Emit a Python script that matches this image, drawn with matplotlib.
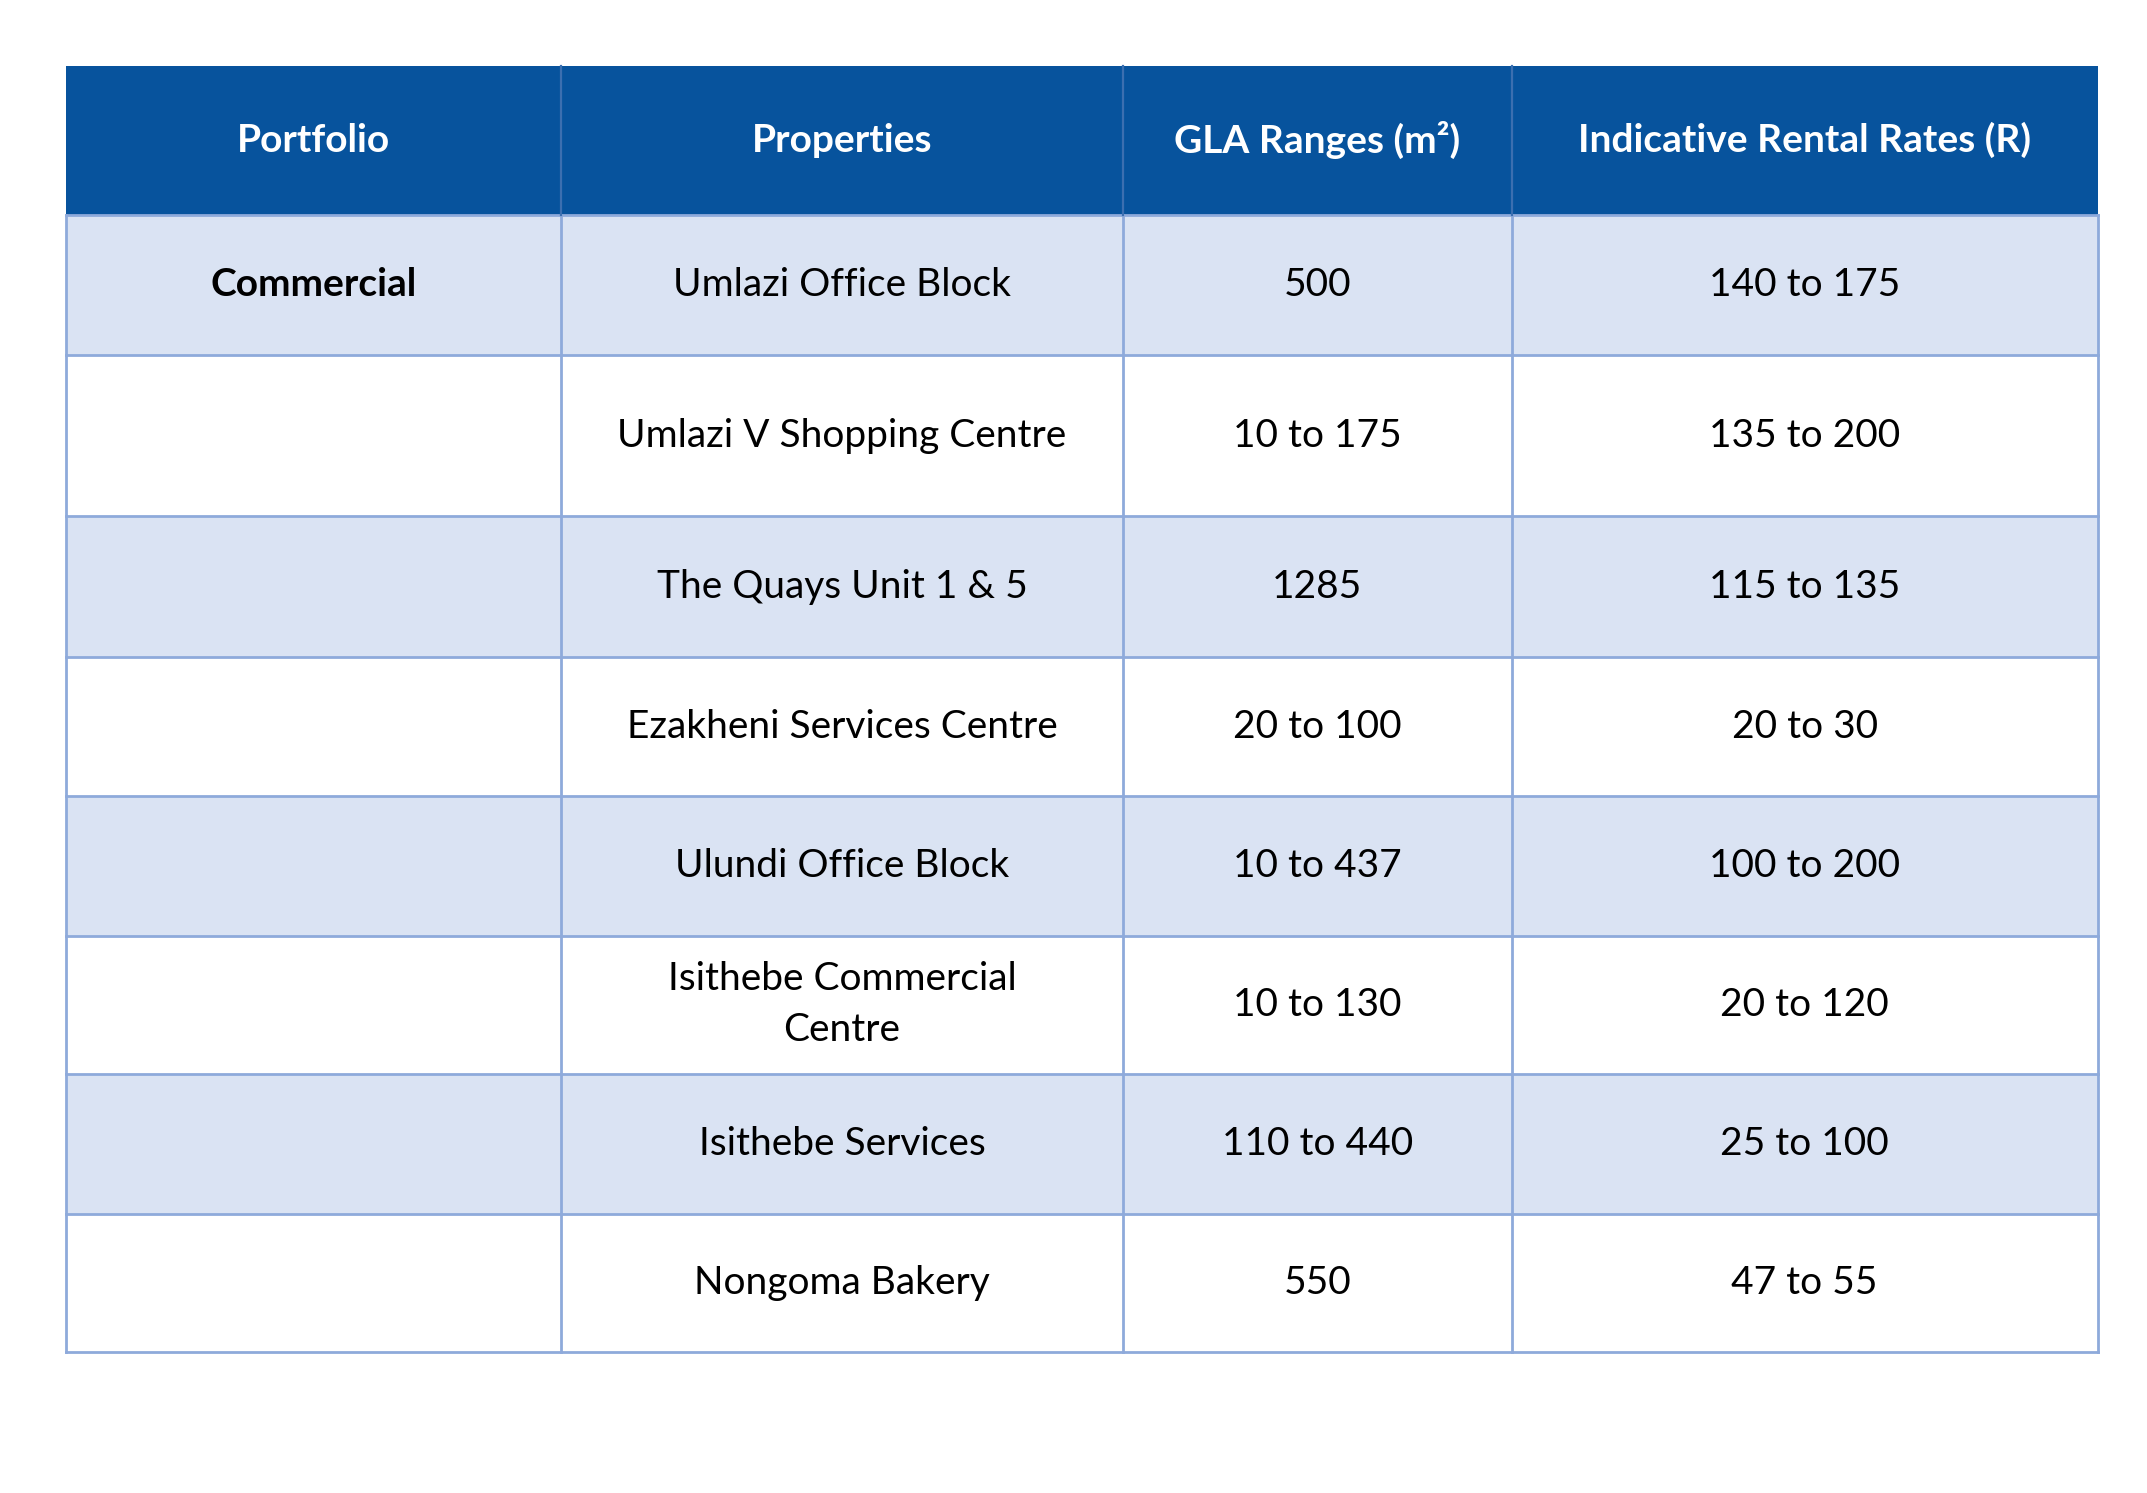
import matplotlib.pyplot as plt
from matplotlib.patches import Rectangle

plt.rcParams['font.family'] = ['Lato', 'DejaVu Sans']

headers = ['Portfolio', 'Properties', 'GLA Ranges (m²)', 'Indicative Rental Rates (R)']
portfolio = ['Commercial', '', '', '', '', '', '', '']
properties = ['Umlazi Office Block', 'Umlazi V Shopping Centre', 'The Quays Unit 1 & 5',
              'Ezakheni Services Centre', 'Ulundi Office Block', 'Isithebe Commercial\nCentre',
              'Isithebe Services', 'Nongoma Bakery']
gla = ['500', '10 to 175', '1285', '20 to 100', '10 to 437', '10 to 130', '110 to 440', '550']
rates = ['140 to 175', '135 to 200', '115 to 135', '20 to 30', '100 to 200', '20 to 120',
         '25 to 100', '47 to 55']

# layout in reference-preview pixels (1568 x 1090)
W, H = 1568, 1090
col_x = [48, 410, 820, 1104, 1532]
row_y = [48, 157, 259, 377, 480, 581, 683, 784, 886, 987]

header_color = '#07539d'
band_color = '#dae3f3'
line_color = '#8eaadb'

fig = plt.figure(figsize=(2147 / 200, 1493 / 200), dpi=200)
ax = fig.add_axes([0, 0, 1, 1])
ax.set_xlim(0, W)
ax.set_ylim(H, 0)
ax.axis('off')

ax.add_patch(Rectangle((col_x[0], row_y[0]), col_x[-1] - col_x[0], row_y[1] - row_y[0],
                       facecolor=header_color, edgecolor='none'))
for i in range(len(properties)):
    if i % 2 == 0:
        ax.add_patch(Rectangle((col_x[0], row_y[i + 1]), col_x[-1] - col_x[0],
                               row_y[i + 2] - row_y[i + 1], facecolor=band_color, edgecolor='none'))

# grid lines
for y in row_y[1:]:
    ax.plot([col_x[0], col_x[-1]], [y, y], color=line_color, lw=1)
for x in col_x:
    ax.plot([x, x], [row_y[1], row_y[-1]], color=line_color, lw=1)
for x in col_x[1:-1]:
    ax.plot([x, x], [row_y[0], row_y[1]], color='#3c6fb0', lw=0.8)

def cx(j):
    return (col_x[j] + col_x[j + 1]) / 2

for j, h in enumerate(headers):
    ax.text(cx(j), (row_y[0] + row_y[1]) / 2, h, ha='center', va='center',
            color='white', fontsize=14, fontweight='bold')

for i in range(len(properties)):
    yc = (row_y[i + 1] + row_y[i + 2]) / 2
    row = [portfolio[i], properties[i], gla[i], rates[i]]
    for j, t in enumerate(row):
        ax.text(cx(j), yc, t, ha='center', va='center', color='black', fontsize=14,
                fontweight='bold' if j == 0 else 'normal', linespacing=1.5)

fig.savefig('out.png', dpi=200, facecolor='white')
